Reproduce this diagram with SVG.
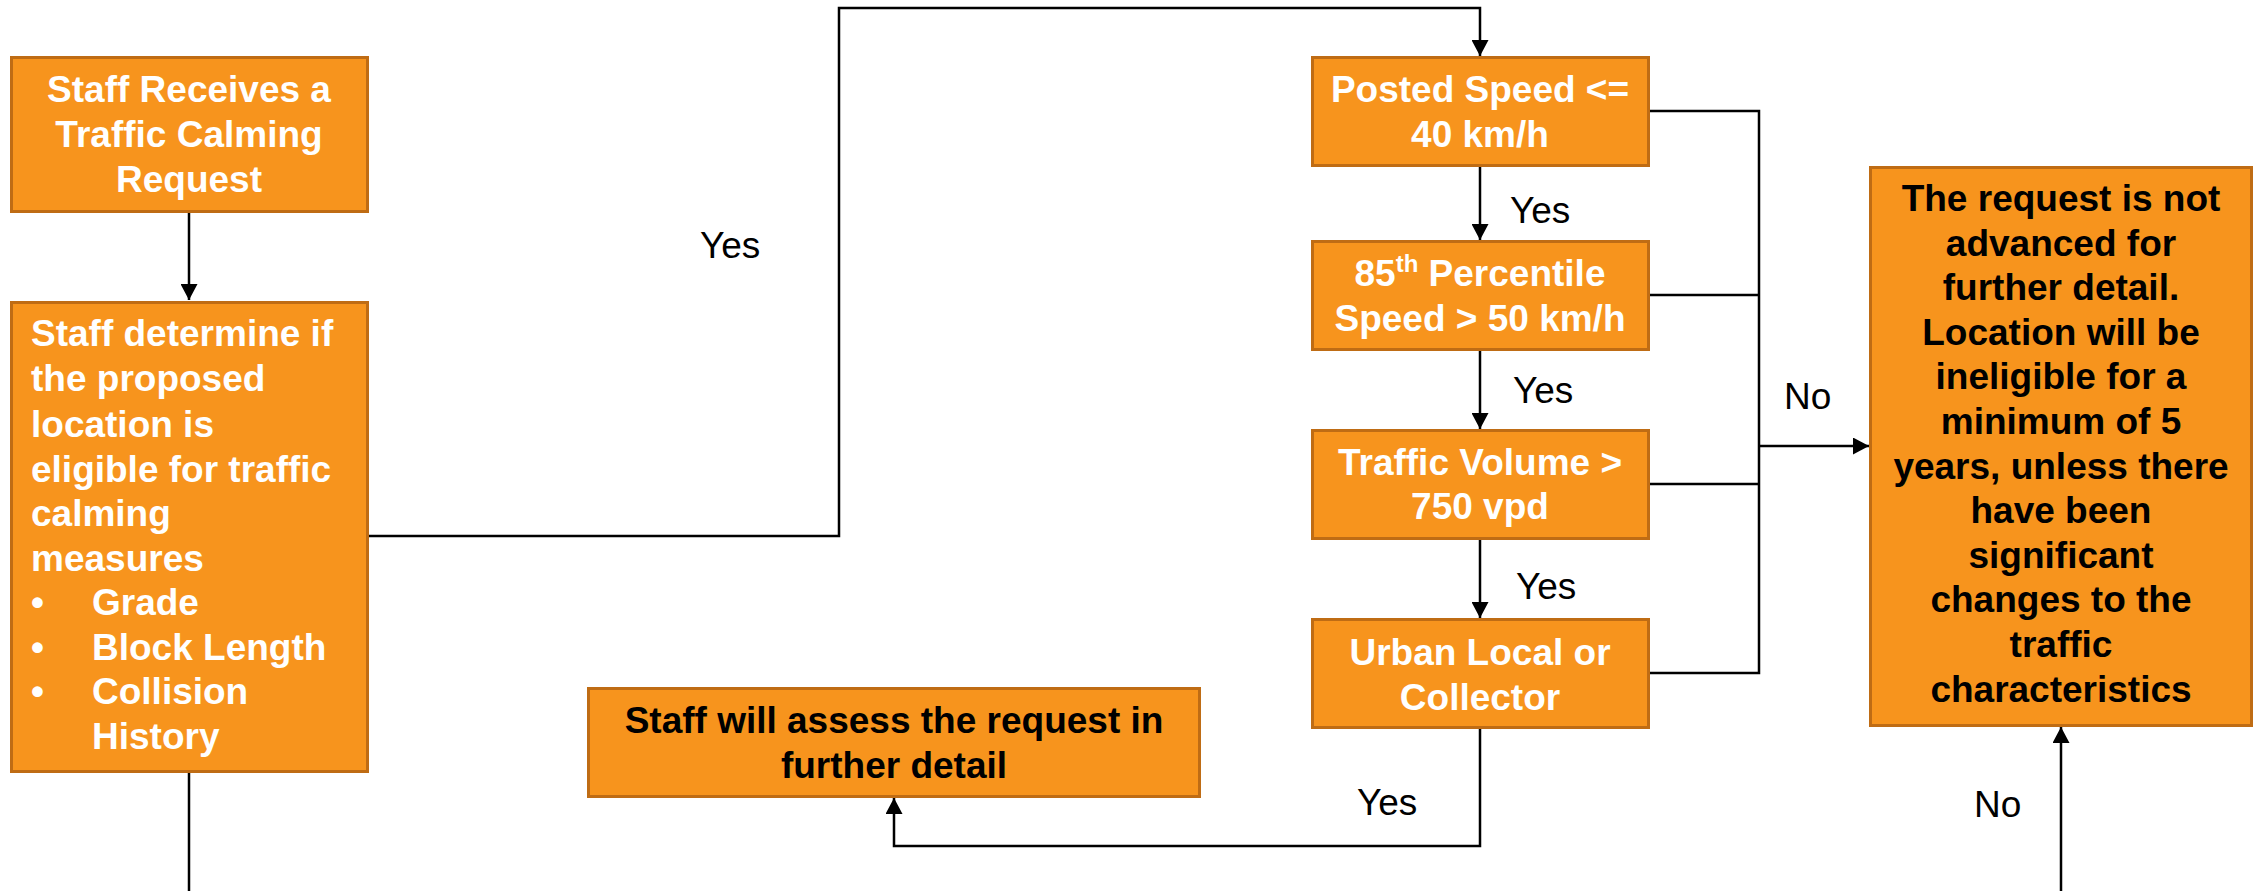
<svg xmlns="http://www.w3.org/2000/svg" width="2259" height="891" viewBox="0 0 2259 891">
<style>
.box{fill:#F7941D;stroke:#BF6C14;stroke-width:3}
.wt{font-family:"Liberation Sans",Arial,sans-serif;font-weight:bold;font-size:37px;fill:#FFFFFF}
.bt{font-family:"Liberation Sans",Arial,sans-serif;font-weight:bold;font-size:37px;fill:#000000}
.c{text-anchor:middle}
.lbl{font-family:"Liberation Sans",Arial,sans-serif;font-size:37px;fill:#000000}
.ln{fill:none;stroke:#000000;stroke-width:2.5}
</style>
<defs>
<marker id="arr" markerUnits="userSpaceOnUse" markerWidth="17" markerHeight="17" refX="16" refY="8.5" orient="auto">
<path d="M0,0 L16,8.5 L0,17 z" fill="#000000"/>
</marker>
</defs>
<rect width="2259" height="891" fill="#FFFFFF"/>
<g id="connectors">
<path class="ln" d="M189,213 V300" marker-end="url(#arr)"/>
<path class="ln" d="M368,536 H839 V8 H1480 V56" marker-end="url(#arr)"/>
<path class="ln" d="M1480,167 V240" marker-end="url(#arr)"/>
<path class="ln" d="M1480,351 V429" marker-end="url(#arr)"/>
<path class="ln" d="M1480,540 V618" marker-end="url(#arr)"/>
<path class="ln" d="M1480,729 V846 H894 V798" marker-end="url(#arr)"/>
<path class="ln" d="M1650,111 H1759 V673 H1650 M1650,295 H1759 M1650,484 H1759"/>
<path class="ln" d="M1759,446 H1869" marker-end="url(#arr)"/>
<path class="ln" d="M189,773 V891"/>
<path class="ln" d="M2061,891 V727" marker-end="url(#arr)"/>
<text class="lbl" x="700" y="258">Yes</text>
<text class="lbl" x="1510" y="223">Yes</text>
<text class="lbl" x="1513" y="403">Yes</text>
<text class="lbl" x="1516" y="599">Yes</text>
<text class="lbl" x="1357" y="815">Yes</text>
<text class="lbl" x="1784" y="409">No</text>
<text class="lbl" x="1974" y="817">No</text>
</g>
<g id="n1">
<rect class="box" x="11.5" y="57.5" width="356" height="154"/>
<text class="wt c" x="189" y="102">Staff Receives a</text>
<text class="wt c" x="189" y="147">Traffic Calming</text>
<text class="wt c" x="189" y="192">Request</text>
</g>
<g id="n2">
<rect class="box" x="11.5" y="302.5" width="356" height="469"/>
<text class="wt" x="31" y="346">Staff determine if</text>
<text class="wt" x="31" y="391">the proposed</text>
<text class="wt" x="31" y="437">location is</text>
<text class="wt" x="31" y="482">eligible for traffic</text>
<text class="wt" x="31" y="526">calming</text>
<text class="wt" x="31" y="571">measures</text>
<text class="wt" x="31" y="615">•</text>
<text class="wt" x="92" y="615">Grade</text>
<text class="wt" x="31" y="660">•</text>
<text class="wt" x="92" y="660">Block Length</text>
<text class="wt" x="31" y="704">•</text>
<text class="wt" x="92" y="704">Collision</text>
<text class="wt" x="92" y="749">History</text>
</g>
<g id="n3">
<rect class="box" x="1312.5" y="57.5" width="336" height="108"/>
<text class="wt c" x="1480" y="102">Posted Speed &lt;=</text>
<text class="wt c" x="1480" y="147">40 km/h</text>
</g>
<g id="n4">
<rect class="box" x="1312.5" y="241.5" width="336" height="108"/>
<text class="wt c" x="1480" y="286">85<tspan dy="-14" font-size="24">th</tspan><tspan dy="14"> Percentile</tspan></text>
<text class="wt c" x="1480" y="331">Speed &gt; 50 km/h</text>
</g>
<g id="n5">
<rect class="box" x="1312.5" y="430.5" width="336" height="108"/>
<text class="wt c" x="1480" y="475">Traffic Volume &gt;</text>
<text class="wt c" x="1480" y="519">750 vpd</text>
</g>
<g id="n6">
<rect class="box" x="1312.5" y="619.5" width="336" height="108"/>
<text class="wt c" x="1480" y="665">Urban Local or</text>
<text class="wt c" x="1480" y="710">Collector</text>
</g>
<g id="n7">
<rect class="box" x="588.5" y="688.5" width="611" height="108"/>
<text class="bt c" x="894" y="733">Staff will assess the request in</text>
<text class="bt c" x="894" y="778">further detail</text>
</g>
<g id="n8">
<rect class="box" x="1870.5" y="167.5" width="381" height="558"/>
<text class="bt c" x="2061" y="211">The request is not</text>
<text class="bt c" x="2061" y="256">advanced for</text>
<text class="bt c" x="2061" y="300">further detail.</text>
<text class="bt c" x="2061" y="345">Location will be</text>
<text class="bt c" x="2061" y="389">ineligible for a</text>
<text class="bt c" x="2061" y="434">minimum of 5</text>
<text class="bt c" x="2061" y="479">years, unless there</text>
<text class="bt c" x="2061" y="523">have been</text>
<text class="bt c" x="2061" y="568">significant</text>
<text class="bt c" x="2061" y="612">changes to the</text>
<text class="bt c" x="2061" y="657">traffic</text>
<text class="bt c" x="2061" y="702">characteristics</text>
</g>
</svg>
